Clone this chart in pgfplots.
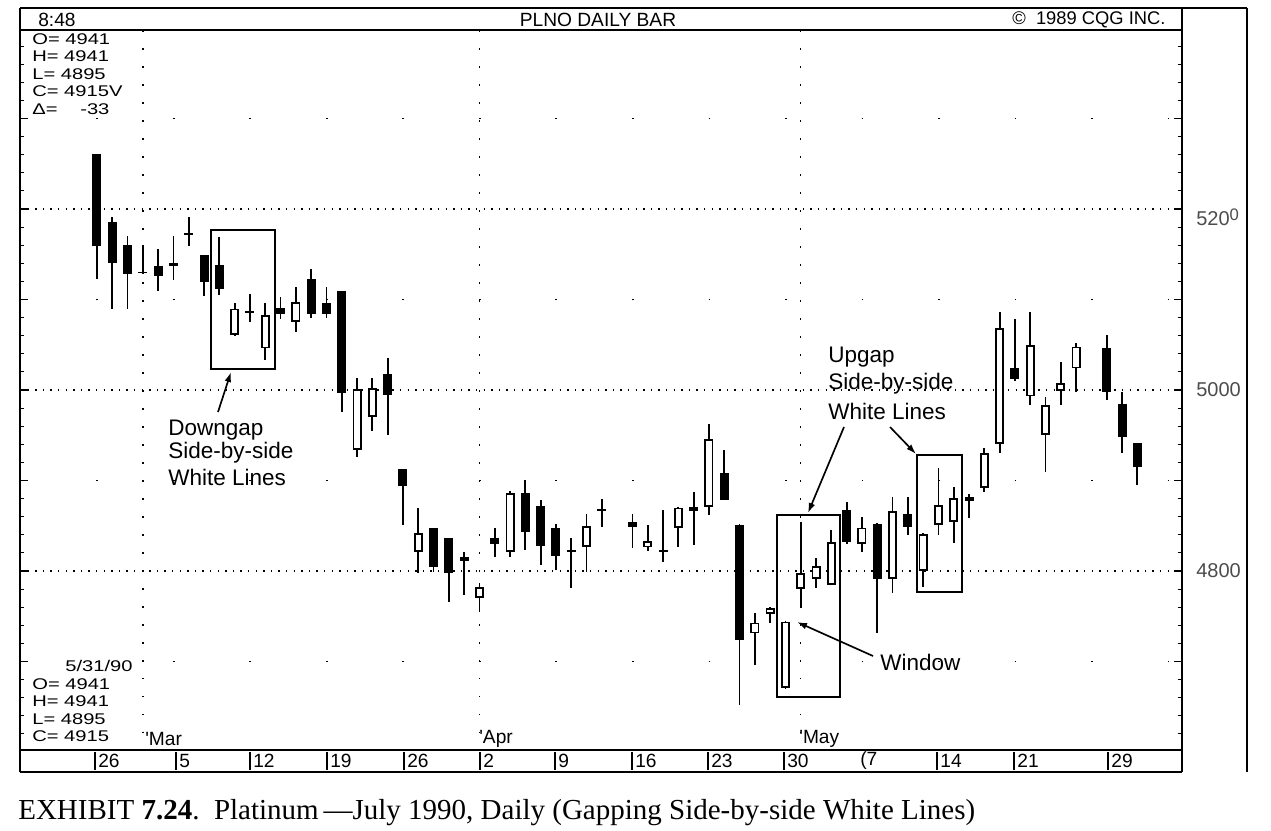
\documentclass[border=0pt]{standalone}
\usepackage{pgfplots}
\pgfplotsset{compat=1.18}
\usepackage{pgfplotstable}
\usetikzlibrary{arrows.meta}
\usepackage{fontspec}
\setmainfont{Liberation Sans}
\newfontfamily\capfont{Liberation Serif}
\newfontfamily\widefont[FakeStretch=1.3]{Liberation Sans}
\newcommand\cqg{\fontsize{11.5}{13}\selectfont}
\newcommand\info{\widefont\fontsize{9.3}{10}\selectfont}
\newcommand\ann{\fontsize{13.5}{16}\selectfont}

% black candles (close below open)
\pgfplotstableread{
x O H L C
0 5261 5261 5123 5159
1 5186 5191 5090 5140
2 5160 5170 5090 5128
3 5131 5160 5128 5129
4 5137 5156 5110 5126
5 5140 5170 5122 5137
6 5174 5191 5159 5172
7 5149 5149 5104 5119
8 5138 5169 5105 5112
10 5087 5106 5075 5085
12 5091 5103 5078 5084
14 5123 5134 5080 5084
15 5096 5114 5080 5084
16 5109 5109 4976 4997
19 5018 5035 4950 4994
20 4913 4913 4851 4894
22 4847 4848 4799 4804
23 4836 4837 4766 4798
24 4815 4821 4773 4811
26 4836 4848 4815 4830
28 4886 4900 4823 4843
29 4872 4878 4807 4828
30 4848 4852 4801 4817
31 4823 4836 4781 4821
33 4868 4880 4849 4866
35 4854 4863 4825 4849
37 4823 4867 4810 4821
39 4871 4887 4829 4866
41 4908 4934 4878 4879
42 4851 4852 4652 4724
49 4867 4876 4830 4832
51 4852 4853 4731 4791
53 4863 4882 4840 4849
57 4882 4885 4859 4877
60 5024 5078 5010 5012
66 5046 5061 4989 4998
67 4985 4998 4930 4948
68 4941 4941 4895 4915
}\bear

% white candles (close above open)
\pgfplotstableread{
x O H L C
9 5061 5096 5060 5090
11 5046 5096 5033 5083
13 5075 5114 5064 5097
17 4934 5013 4926 5001
18 4970 5013 4955 5002
21 4821 4870 4798 4842
25 4770 4787 4755 4782
27 4821 4888 4815 4886
32 4827 4863 4799 4850
36 4826 4851 4822 4833
38 4848 4871 4827 4870
40 4871 4962 4862 4946
43 4731 4754 4696 4743
44 4753 4760 4743 4759
45 4671 4745 4670 4744
46 4780 4854 4759 4798
47 4791 4814 4781 4805
48 4785 4845 4784 4832
50 4830 4860 4821 4848
52 4791 4882 4776 4866
54 4800 4842 4782 4841
55 4851 4914 4840 4873
56 4854 4893 4831 4881
58 4892 4936 4887 4930
59 4940 5086 4931 5068
61 4993 5086 4983 5050
62 4950 4992 4909 4983
63 4999 5031 4983 5008
64 5024 5052 4998 5048
}\bull

\begin{document}
\begin{tikzpicture}
\begin{axis}[
  at={(12pt,-450pt)}, anchor=south west, scale only axis,
  width=697.2pt, height=432pt,
  xmin=-5.03, xmax=70.92, ymin=4602.2, ymax=5397.8,
  axis line style={line width=1.1pt},
  xtick=\empty,
  ytick={4700,4800,...,5300}, yticklabels={},
  minor ytick={4620,4640,...,5380},
  major tick length=5pt, minor tick length=2.6pt,
  every tick/.style={black, line width=0.7pt},
  candle/.style={draw=none, no markers, forget plot,
    /pgfplots/error bars/y dir=both, /pgfplots/error bars/y explicit,
    /pgfplots/error bars/error mark=none},
]
% dotted grid
\draw[line width=0.9pt, dash pattern=on 0.9pt off 3.66pt] (axis cs:-5.03,5200) -- (axis cs:70.92,5200);
\draw[line width=0.9pt, dash pattern=on 0.9pt off 3.66pt] (axis cs:-5.03,5000) -- (axis cs:70.92,5000);
\draw[line width=0.9pt, dash pattern=on 0.9pt off 3.66pt] (axis cs:-5.03,4800) -- (axis cs:70.92,4800);
\draw[line width=1pt, dash pattern=on 1pt off 44.9pt] (axis cs:-5.03,5300) -- (axis cs:70.92,5300);
\draw[line width=1pt, dash pattern=on 1pt off 44.9pt] (axis cs:-5.03,5100) -- (axis cs:70.92,5100);
\draw[line width=1pt, dash pattern=on 1pt off 44.9pt] (axis cs:-5.03,4900) -- (axis cs:70.92,4900);
\draw[line width=1pt, dash pattern=on 1pt off 44.9pt] (axis cs:-5.03,4700) -- (axis cs:70.92,4700);
\draw[line width=0.9pt, dash pattern=on 0.9pt off 9.9pt] (axis cs:3,5397.8) -- (axis cs:3,4602.2);
\draw[line width=0.9pt, dash pattern=on 0.9pt off 9.9pt] (axis cs:25,5397.8) -- (axis cs:25,4602.2);
\draw[line width=0.9pt, dash pattern=on 0.9pt off 9.9pt] (axis cs:46,5397.8) -- (axis cs:46,4602.2);

% wicks
\addplot[candle, /pgfplots/error bars/error bar style={draw=black, line width=1.1pt}]
  table[x=x, y expr={(\thisrow{H}+\thisrow{L})/2}, y error expr={(\thisrow{H}-\thisrow{L})/2}] {\bear};
\addplot[candle, /pgfplots/error bars/error bar style={draw=black, line width=1.1pt}]
  table[x=x, y expr={(\thisrow{H}+\thisrow{L})/2}, y error expr={(\thisrow{H}-\thisrow{L})/2}] {\bull};
% black bodies
\addplot[candle, /pgfplots/error bars/error bar style={draw=black, line width=5.4pt}]
  table[x=x, y expr={(\thisrow{O}+\thisrow{C})/2}, y error expr={max((\thisrow{O}-\thisrow{C})/2,1)}] {\bear};
% white bodies: outline then fill
\addplot[candle, /pgfplots/error bars/error bar style={draw=black, line width=5.4pt}]
  table[x=x, y expr={(\thisrow{O}+\thisrow{C})/2}, y error expr={(\thisrow{C}-\thisrow{O})/2}] {\bull};
\addplot[candle, /pgfplots/error bars/error bar style={draw=white, line width=3.2pt}]
  table[x=x, y expr={(\thisrow{O}+\thisrow{C})/2}, y error expr={max((\thisrow{C}-\thisrow{O})/2-2.0,0.3)}] {\bull};
\end{axis}

\begin{scope}[x=0.6pt, y=-0.6pt]
% frame
\draw[line width=1.1pt] (20,8) -- (1247,8);
\draw[line width=1.1pt] (20,8) -- (20,772);
\draw[line width=1.1pt] (1182,8) -- (1182,772);
\draw[line width=1.1pt] (20,772) -- (1182,772);
\draw[line width=1.1pt] (1247,8) -- (1247,772);
% header
\node[anchor=west, inner sep=0, font=\cqg] at (38,20) {8:48};
\node[inner sep=0, font=\cqg] at (598,20) {PLNO DAILY BAR};
\node[anchor=west, inner sep=0, font=\fontsize{11}{13}\selectfont] at (1012,20) {©\ \ 1989 CQG INC.};
% info top-left
\node[anchor=west, inner sep=0, font=\info] at (32,39) {O= 4941};
\node[anchor=west, inner sep=0, font=\info] at (32,56.5) {H= 4941};
\node[anchor=west, inner sep=0, font=\info] at (32,74) {L= 4895};
\node[anchor=west, inner sep=0, font=\info] at (32,91.5) {C= 4915V};
\node[anchor=west, inner sep=0, font=\info] at (32,109) {Δ=};
\node[anchor=west, inner sep=0, font=\info] at (80,109) {-33};
% info bottom-left
\node[anchor=west, inner sep=0, font=\info] at (65,666) {5/31/90};
\node[anchor=west, inner sep=0, font=\info] at (32,684) {O= 4941};
\node[anchor=west, inner sep=0, font=\info] at (32,701.5) {H= 4941};
\node[anchor=west, inner sep=0, font=\info] at (32,719) {L= 4895};
\node[anchor=west, inner sep=0, font=\info] at (32,736.5) {C= 4915};
% month labels
\node[anchor=west, inner sep=0, font=\cqg] at (145,739) {\textquotesingle Mar};
\node[anchor=west, inner sep=0, font=\cqg] at (479,739) {\textquotesingle Apr};
\node[anchor=west, inner sep=0, font=\cqg] at (799,739) {\textquotesingle May};
% date bar
\foreach \p/\t in {95/26, 176/5, 250/12, 327/19, 404/26, 480/2, 555/9, 632/16, 708/23, 784/30, 937/14, 1014/21, 1108/29} {
  \draw[line width=1pt] (\p,752) -- (\p,770);
  \node[anchor=west, inner sep=0, font=\cqg] at (\p+3,761) {\t};
}
\node[anchor=west, inner sep=0, font=\cqg] at (860,761) {(7};
% right labels
\node[anchor=west, inner sep=0, font=\fontsize{12}{14}\selectfont, text=black!70] at (1196,217) {520\raisebox{3pt}{\fontsize{10}{12}\selectfont 0}};
\node[anchor=west, inner sep=0, font=\fontsize{12}{14}\selectfont, text=black!70] at (1196,390) {5000};
\node[anchor=west, inner sep=0, font=\fontsize{12}{14}\selectfont, text=black!70] at (1196,571) {4800};
% annotations
\draw[line width=0.8pt] (211,230) rectangle (275,369);
\draw[line width=1pt, -{Latex[length=6pt,width=4pt]}] (218,412) -- (231,372);
\node[anchor=west, inner sep=0, font=\ann] at (168,430) {Downgap};
\node[anchor=west, inner sep=0, font=\ann] at (168,453) {Side-by-side};
\node[anchor=west, inner sep=0, font=\ann] at (168,477) {White Lines};

\draw[line width=0.8pt] (777,515) rectangle (840,697);
\draw[line width=1pt, -{Latex[length=6pt,width=4pt]}] (844,427) -- (808,513);
\draw[line width=0.8pt] (917,455) rectangle (962,592);
\draw[line width=1pt, -{Latex[length=6pt,width=4pt]}] (890,427) -- (916,454);
\node[anchor=west, inner sep=0, font=\ann] at (828,357) {Upgap};
\node[anchor=west, inner sep=0, font=\ann] at (828,384) {Side-by-side};
\node[anchor=west, inner sep=0, font=\ann] at (828,411) {White Lines};

\draw[line width=1pt, -{Latex[length=6pt,width=4pt]}] (873,656) -- (797,622);
\node[anchor=west, inner sep=0, font=\ann] at (880,662) {Window};

% caption
\node[anchor=base west, inner sep=0, font=\capfont\fontsize{17.4}{20}\selectfont] at (18,819)
  {EXHIBIT \textbf{7.24}.\ \ Platinum\,—July 1990, Daily (Gapping Side-by-side White Lines)};
\path (0,0) rectangle (1271,831);
\end{scope}
\end{tikzpicture}
\end{document}
